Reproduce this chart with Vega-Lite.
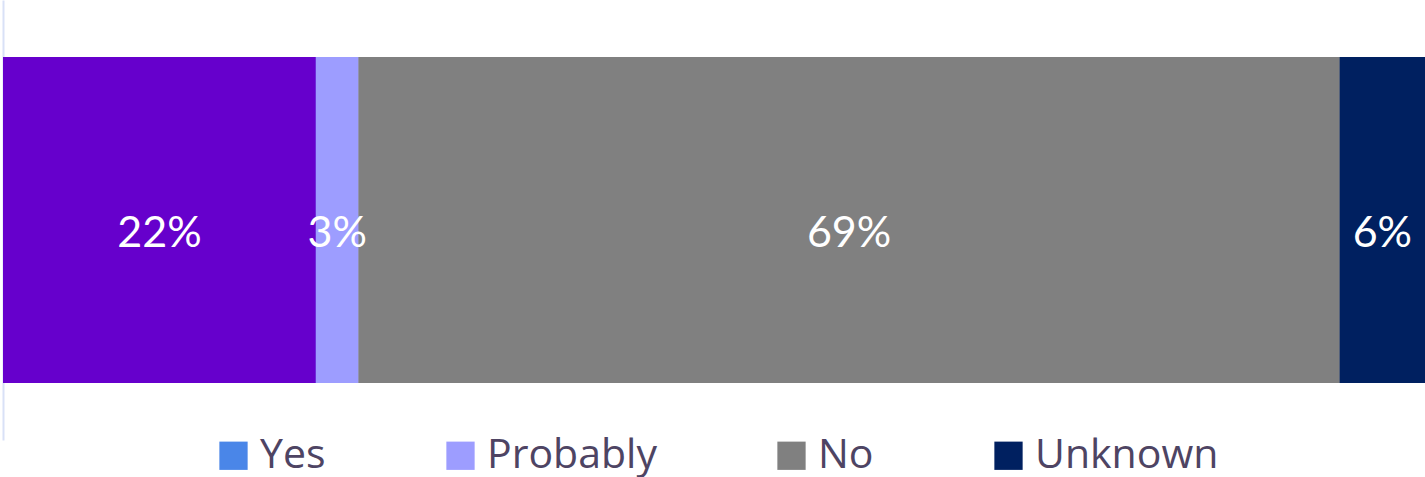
{
  "$schema": "https://vega.github.io/schema/vega-lite/v6.json",
  "width": 1422,
  "height": 440,
  "autosize": {"type": "none"},
  "padding": {"left": 3, "top": 0, "right": 0, "bottom": 37},
  "background": "white",
  "config": {"view": {"stroke": null}},
  "data": {
    "values": [
      {"answer": "Yes", "share": 0.22, "rank": 1},
      {"answer": "Probably", "share": 0.03, "rank": 2},
      {"answer": "No", "share": 0.69, "rank": 3},
      {"answer": "Unknown", "share": 0.06, "rank": 4}
    ]
  },
  "transform": [
    {"stack": "share", "groupby": [], "sort": [{"field": "rank", "order": "ascending"}], "as": ["x0", "x1"]},
    {"calculate": "(datum.x0 + datum.x1) / 2", "as": "mid"}
  ],
  "encoding": {
    "y": {
      "datum": "all",
      "type": "nominal",
      "scale": {"paddingInner": 0, "paddingOuter": 0.1748},
      "axis": {
        "title": null, "labels": false, "ticks": false, "grid": false,
        "domain": true, "domainColor": "#D9E1F7", "domainWidth": 2
      }
    }
  },
  "layer": [
    {
      "mark": {"type": "bar"},
      "encoding": {
        "x": {"field": "x0", "type": "quantitative", "scale": {"domain": [0, 1], "nice": false, "zero": true}, "axis": null},
        "x2": {"field": "x1"},
        "color": {
          "field": "answer",
          "type": "nominal",
          "scale": {"domain": ["Yes", "Probably", "No", "Unknown"], "range": ["#4A86E8", "#9D9DFF", "#808080", "#002060"]},
          "legend": {
            "title": null,
            "orient": "none",
            "legendX": 210,
            "legendY": 435,
            "direction": "horizontal",
            "symbolType": "square",
            "symbolSize": 800,
            "symbolStrokeWidth": 0,
            "symbolOpacity": 1,
            "labelFont": "Open Sans",
            "labelFontSize": 41,
            "labelColor": "#4E4463",
            "labelOffset": 6,
            "columnPadding": 114,
            "labelLimit": 400
          }
        }
      }
    },
    {
      "mark": {"type": "bar"},
      "encoding": {
        "x": {"field": "x0", "type": "quantitative"},
        "x2": {"field": "x1"},
        "fill": {
          "field": "answer",
          "type": "nominal",
          "scale": {"domain": ["Yes", "Probably", "No", "Unknown"], "range": ["#6600CC", "#9D9DFF", "#808080", "#002060"]},
          "legend": null
        }
      }
    },
    {
      "mark": {"type": "text", "color": "white", "font": "Lato", "fontSize": 43, "baseline": "middle", "align": "center", "dy": 14},
      "encoding": {
        "x": {"field": "mid", "type": "quantitative"},
        "text": {"field": "share", "type": "quantitative", "format": ".0%"}
      }
    }
  ]
}
